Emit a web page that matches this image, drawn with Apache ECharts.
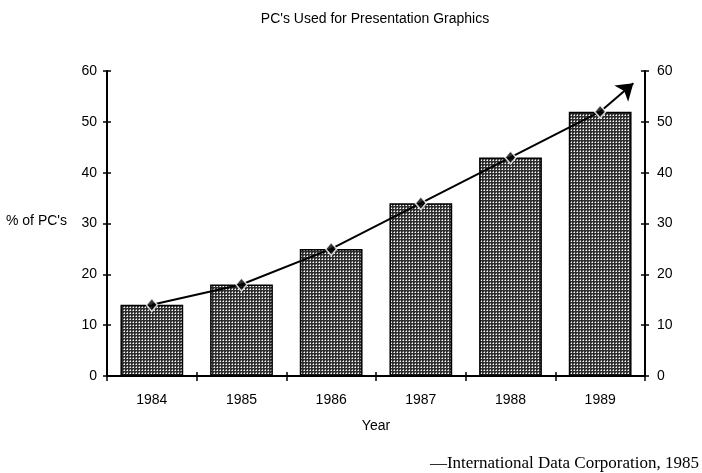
<!DOCTYPE html>
<html>
<head>
<meta charset="utf-8">
<script src="https://cdn.jsdelivr.net/npm/echarts@6/dist/echarts.min.js"></script>
<style>
  html, body { margin: 0; padding: 0; background: #fff; }
  #main { width: 702px; height: 473px; }
</style>
</head>
<body>
<div id="main"></div>
<script>
// data
var years = ['1984', '1985', '1986', '1987', '1988', '1989']
var barValues = [14, 18, 25, 34, 43, 52]
var trendValues = [14, 18, 25, 34, 43, 52]
var arrowEnd = [5.37, 57.6] // where the trend arrow head ends (category index, value)
var yTicks = [0, 10, 20, 30, 40, 50, 60]

// halftone dot pattern for the bars
function dotPattern() {
  var c = document.createElement('canvas')
  c.width = 3
  c.height = 3
  var ctx = c.getContext('2d')
  ctx.fillStyle = '#2e2e2e'
  ctx.fillRect(0, 0, 3, 3)
  ctx.fillStyle = '#ffffff'
  ctx.fillRect(1, 1, 1, 1)
  ctx.fillStyle = '#9a9a9a'
  ctx.fillRect(0, 1, 1, 1)
  ctx.fillRect(1, 0, 1, 1)
  return c
}

var trendCoords = trendValues.map(function (v, i) { return [i, v] })
var lastPoint = trendCoords[trendCoords.length - 1]

var fontSans = 'Liberation Sans, Arial, sans-serif'
var axisLineStyle = { color: '#000', width: 2 }

var chart = echarts.init(document.getElementById('main'), null, { renderer: 'canvas' })

var yAxisBase = {
  type: 'value',
  min: yTicks[0],
  max: yTicks[yTicks.length - 1],
  interval: 10,
  splitLine: { show: false },
  axisLine: { show: true, onZero: false, lineStyle: axisLineStyle },
  axisTick: { show: true, length: 4, lineStyle: { color: '#000', width: 1.5 } },
  axisLabel: { color: '#000', fontSize: 14, fontFamily: fontSans, margin: 10 }
}

var option = {
  animation: false,
  backgroundColor: '#fff',
  title: {
    text: "PC's Used for Presentation Graphics",
    left: 370,
    textAlign: 'center',
    top: 7,
    textStyle: { color: '#000', fontSize: 14, fontWeight: 'normal', fontFamily: fontSans }
  },
  grid: { left: 107, right: 57, top: 71, bottom: 97 },
  xAxis: [
    {
      type: 'category',
      position: 'bottom',
      data: years,
      name: 'Year',
      nameLocation: 'middle',
      nameGap: 43,
      nameTextStyle: { color: '#000', fontSize: 14, fontFamily: fontSans },
      axisLine: { onZero: false, lineStyle: axisLineStyle },
      axisTick: { show: true, length: 5, lineStyle: { color: '#000', width: 1.5 } },
      axisLabel: { color: '#000', fontSize: 14, fontFamily: fontSans, margin: 17 }
    },
    {
      type: 'value',
      position: 'top',
      min: -0.5,
      max: 5.5,
      show: false
    },
    {
      type: 'category',
      position: 'bottom',
      offset: 0,
      data: years,
      axisLine: { show: false, onZero: false },
      axisTick: { show: true, inside: true, length: 4, lineStyle: { color: '#000', width: 1.5 } },
      axisLabel: { show: false }
    }
  ],
  yAxis: [
    Object.assign({}, yAxisBase, { position: 'left' }),
    Object.assign({}, yAxisBase, { position: 'right', axisLabel: Object.assign({}, yAxisBase.axisLabel, { margin: 12 }) }),
    Object.assign({}, yAxisBase, {
      position: 'left', offset: 0, axisLine: { show: false, onZero: false }, axisLabel: { show: false },
      axisTick: { show: true, inside: true, length: 4, lineStyle: { color: '#000', width: 1.5 } }
    }),
    Object.assign({}, yAxisBase, {
      position: 'right', offset: 0, axisLine: { show: false, onZero: false }, axisLabel: { show: false },
      axisTick: { show: true, inside: true, length: 4, lineStyle: { color: '#000', width: 1.5 } }
    })
  ],
  graphic: [
    {
      type: 'text',
      left: 6,
      top: 214,
      style: { text: "% of PC's", fill: '#000', fontSize: 14, fontFamily: fontSans }
    },
    {
      type: 'text',
      right: 3,
      top: 455,
      style: {
        text: '\u2014International Data Corporation, 1985',
        fill: '#000',
        fontSize: 17,
        fontFamily: 'Liberation Serif, Times New Roman, serif'
      }
    }
  ],
  series: [
    {
      name: 'bars',
      type: 'bar',
      xAxisIndex: 0,
      yAxisIndex: 0,
      barWidth: '70%',
      data: barValues,
      itemStyle: {
        color: { image: dotPattern(), repeat: 'repeat' },
        borderColor: '#000',
        borderWidth: 1.5
      }
    },
    {
      name: 'trend',
      type: 'lines',
      coordinateSystem: 'cartesian2d',
      xAxisIndex: 1,
      yAxisIndex: 0,
      polyline: true,
      symbol: 'none',
      lineStyle: { color: '#000', width: 2, opacity: 1 },
      data: [{ coords: trendCoords }],
      z: 3
    },
    {
      name: 'arrow',
      type: 'lines',
      coordinateSystem: 'cartesian2d',
      xAxisIndex: 1,
      yAxisIndex: 0,
      symbol: ['none', 'arrow'],
      symbolSize: 16,
      lineStyle: { color: '#000', width: 2, opacity: 1 },
      itemStyle: { color: '#222' },
      data: [{ coords: [lastPoint, arrowEnd] }],
      z: 3
    },
    {
      name: 'points',
      type: 'scatter',
      xAxisIndex: 0,
      yAxisIndex: 0,
      symbol: 'diamond',
      symbolSize: [11, 13],
      data: trendValues,
      itemStyle: { color: '#000', borderColor: '#fff', borderWidth: 1.5 },
      z: 4
    }
  ]
}

chart.setOption(option)
</script>
</body>
</html>
